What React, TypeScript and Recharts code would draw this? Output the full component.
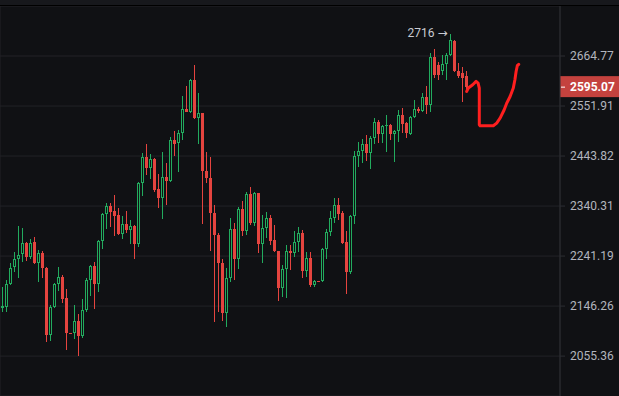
import {
  ComposedChart,
  Bar,
  Line,
  XAxis,
  YAxis,
  CartesianGrid,
  ReferenceLine,
  ReferenceDot,
} from "recharts";

// daily candles, oldest first
const opens = [
  2142.6, 2143.9, 2187.5, 2219.7, 2234.9, 2245.2, 2266.4, 2238.7, 2268.4, 2227.3,
  2246.5, 2217.8, 2094.1, 2145.0, 2187.5, 2200.8, 2160.9, 2096.6, 2096.6, 2118.4,
  2091.2, 2138.1, 2195.6, 2222.2, 2187.1, 2270.5, 2324.9, 2340.7, 2329.8, 2322.5,
  2283.8, 2304.0, 2292.7, 2300.7, 2264.0, 2387.9, 2442.8, 2417.9, 2437.0, 2374.9,
  2355.8, 2399.7, 2390.6, 2478.4, 2471.3, 2492.9, 2544.8, 2539.6, 2610.6, 2525.3,
  2536.1, 2413.4, 2397.7, 2325.8, 2282.2, 2227.3, 2133.0, 2198.1, 2294.1, 2234.9,
  2333.8, 2289.4, 2365.1, 2306.0, 2366.6, 2265.0, 2296.1, 2315.9, 2272.9, 2250.5,
  2179.9, 2216.5, 2250.5, 2247.7, 2269.5, 2286.2, 2213.3, 2236.8, 2186.1, 2193.2,
  2192.6, 2254.5, 2287.8, 2315.5, 2341.8, 2325.8, 2268.0, 2211.4, 2320.5, 2444.9,
  2454.0, 2469.1, 2449.7, 2482.1, 2515.8, 2490.7, 2507.2, 2510.8, 2490.7, 2496.4,
  2532.5, 2514.5, 2491.4, 2528.8, 2545.4, 2541.0, 2572.9, 2554.2, 2663.2, 2644.5,
  2629.3, 2646.0, 2667.1, 2700.1, 2629.3, 2625.7, 2618.0,
];
const highs = [
  2182.9, 2195.6, 2227.3, 2249.1, 2300.7, 2295.3, 2269.5, 2274.3, 2278.3, 2253.1,
  2251.7, 2219.4, 2148.7, 2189.0, 2219.7, 2205.1, 2178.0, 2096.8, 2147.6, 2131.7,
  2159.6, 2200.0, 2224.1, 2229.8, 2271.9, 2327.0, 2345.5, 2346.5, 2363.1, 2336.9,
  2319.5, 2331.0, 2312.6, 2302.6, 2389.0, 2449.7, 2469.8, 2448.1, 2439.1, 2406.6,
  2453.1, 2429.9, 2484.2, 2496.4, 2500.0, 2574.5, 2595.5, 2612.2, 2644.5, 2580.6,
  2537.2, 2453.1, 2442.4, 2342.4, 2286.2, 2234.9, 2217.8, 2315.9, 2307.2, 2339.0,
  2351.3, 2369.9, 2379.0, 2369.9, 2367.8, 2322.5, 2329.0, 2322.5, 2302.6, 2251.5,
  2224.1, 2263.0, 2263.0, 2289.4, 2298.1, 2292.7, 2249.7, 2249.7, 2194.3, 2193.4,
  2256.5, 2294.7, 2330.8, 2357.5, 2355.8, 2329.4, 2291.2, 2321.9, 2455.3, 2474.7,
  2479.9, 2489.2, 2487.1, 2525.3, 2521.6, 2510.8, 2532.5, 2511.9, 2500.0, 2543.3,
  2547.9, 2517.9, 2530.9, 2565.5, 2550.4, 2580.6, 2595.5, 2671.1, 2681.3, 2650.6,
  2667.1, 2671.1, 2716.0, 2701.3, 2649.0, 2638.4, 2629.3,
];
const lows = [
  2135.9, 2135.9, 2186.1, 2211.4, 2198.9, 2230.4, 2232.3, 2234.9, 2225.4, 2191.8,
  2198.1, 2080.8, 2083.2, 2143.5, 2174.7, 2152.5, 2066.3, 2095.8, 2085.7, 2055.4,
  2088.6, 2135.4, 2165.2, 2141.7, 2173.4, 2255.1, 2294.7, 2298.7, 2280.8, 2282.8,
  2274.3, 2286.2, 2264.0, 2236.4, 2259.6, 2361.0, 2404.5, 2396.2, 2369.9, 2335.7,
  2313.9, 2342.4, 2388.5, 2443.8, 2411.3, 2476.9, 2539.0, 2539.0, 2524.2, 2469.1,
  2304.6, 2387.3, 2251.1, 2117.7, 2135.9, 2119.5, 2108.6, 2192.4, 2195.6, 2215.9,
  2279.5, 2282.8, 2302.6, 2299.3, 2246.5, 2227.3, 2276.3, 2263.0, 2249.7, 2156.3,
  2162.8, 2160.9, 2214.6, 2238.7, 2249.7, 2198.9, 2201.9, 2181.8, 2182.9, 2192.0,
  2191.8, 2236.4, 2280.8, 2305.6, 2311.6, 2265.0, 2168.5, 2207.4, 2304.6, 2420.4,
  2429.9, 2434.1, 2416.3, 2469.8, 2472.6, 2472.6, 2452.5, 2476.9, 2432.0, 2474.7,
  2492.9, 2482.1, 2489.2, 2526.6, 2536.1, 2538.4, 2534.0, 2538.4, 2614.4, 2610.6,
  2621.9, 2610.6, 2665.5, 2628.8, 2614.4, 2560.3, 2584.2,
];
const closes = [
  2146.3, 2187.5, 2219.0, 2234.9, 2243.8, 2266.4, 2238.7, 2267.6, 2227.3, 2246.5,
  2217.8, 2094.1, 2145.0, 2187.5, 2200.8, 2160.1, 2096.6, 2096.0, 2118.4, 2091.2,
  2138.1, 2195.6, 2222.2, 2187.1, 2270.5, 2324.9, 2340.7, 2329.0, 2320.9, 2283.8,
  2304.0, 2292.7, 2299.7, 2264.0, 2387.9, 2442.8, 2417.9, 2437.0, 2373.4, 2355.8,
  2399.7, 2390.6, 2478.4, 2469.8, 2492.9, 2544.8, 2539.6, 2610.6, 2525.3, 2536.1,
  2413.4, 2397.7, 2325.8, 2282.2, 2227.3, 2133.0, 2198.1, 2294.1, 2234.9, 2333.8,
  2289.4, 2365.1, 2306.0, 2366.6, 2265.0, 2296.1, 2315.9, 2271.5, 2250.5, 2179.9,
  2216.5, 2250.5, 2247.7, 2269.5, 2286.2, 2213.3, 2236.8, 2186.1, 2192.8, 2192.2,
  2254.5, 2287.8, 2315.5, 2341.8, 2325.0, 2267.6, 2211.4, 2320.5, 2444.9, 2454.0,
  2469.1, 2449.7, 2482.1, 2515.8, 2490.7, 2507.2, 2509.8, 2490.7, 2496.4, 2532.5,
  2513.0, 2492.9, 2528.8, 2545.4, 2541.0, 2572.9, 2554.2, 2663.2, 2621.9, 2621.9,
  2646.0, 2667.1, 2702.5, 2629.3, 2618.0, 2614.4, 2595.07,
];

// hand drawn projection (bar index, price)
const drawIdx = [
  116.05, 116.45, 117.55, 118.4, 118.9, 119.2, 119.2, 119.4, 122.7, 123.55,
  124.4, 125.4, 126.05, 126.9, 127.7, 128.1, 128.4, 128.7, 129.05,
];
const drawPrice = [
  2584.2, 2591.9, 2599.3, 2606.8, 2603.1, 2591.9, 2510.8, 2508.7, 2508.7, 2514.5,
  2525.3, 2543.2, 2558.0, 2572.9, 2591.9, 2610.6, 2629.3, 2642.5, 2645.5,
];

const priceTicks = [2055.36, 2146.26, 2241.19, 2340.31, 2443.82, 2551.91, 2664.77];
const timeTicks = [-0.25, 23.75, 47.75, 71.75, 95.75, 119.75];
const lastPrice = 2595.07;

const UP = "#22ab5e";
const DOWN = "#e5443f";
const BG = "#101114";

const candles = opens.map((o, i) => ({
  i,
  open: o,
  high: highs[i],
  low: lows[i],
  close: closes[i],
  range: [lows[i], highs[i]],
}));
const drawing = drawIdx.map((i, k) => ({ i, p: drawPrice[k] }));

let hiIdx = 0;
highs.forEach((h, i) => {
  if (h > highs[hiIdx]) hiIdx = i;
});

function Candle(props: any) {
  const { x, y, width, height, payload } = props;
  if (x == null || !payload) return null;
  const { open, high, low, close } = payload;
  const top = Math.min(y, y + height);
  const h = Math.abs(height);
  const cx = Math.round(x + width / 2 - 0.5) + 0.5;
  const lh = Math.log(high);
  const span = lh - Math.log(low);
  const py = (v: number) => Math.round(span > 0 ? top + ((lh - Math.log(v)) / span) * h : top);
  const yh = Math.round(top);
  const yl = Math.round(top + h);
  const yo = py(open);
  const yc = py(close);

  if (close < open) {
    return (
      <g>
        <line x1={cx} x2={cx} y1={yh} y2={Math.max(yl, yh + 1)} stroke={DOWN} />
        <rect x={cx - 1.5} y={yo} width={3} height={Math.max(1, yc - yo)} fill={DOWN} />
      </g>
    );
  }
  return (
    <g>
      <line x1={cx} x2={cx} y1={yh} y2={yc} stroke={UP} />
      <line x1={cx} x2={cx} y1={yo} y2={Math.max(yl, yo + 1)} stroke={UP} />
      {yo - yc > 1 ? (
        <rect x={cx - 1} y={yc + 0.5} width={2} height={yo - yc - 1} fill={BG} stroke={UP} />
      ) : (
        <rect x={cx - 1.5} y={yc} width={3} height={Math.max(1, yo - yc)} fill={UP} />
      )}
    </g>
  );
}

function PriceTag(props: any) {
  const vb = props.viewBox || {};
  const left = (vb.x || 0) + (vb.width || 0);
  const cy = vb.y || 0;
  return (
    <g>
      <rect x={left} y={cy - 10.5} width={59} height={21} fill="#c4423e" />
      <line x1={left + 1} x2={left + 5} y1={cy + 0.5} y2={cy + 0.5} stroke="#ffffff" />
      <text x={left + 10} y={cy} dy="0.36em" fill="#ffffff" fontSize={12} fontWeight={700}>
        {lastPrice.toFixed(2)}
      </text>
    </g>
  );
}

function HighTag(props: any) {
  const vb = props.viewBox || {};
  const cx = (vb.x || 0) + (vb.width || 0) / 2;
  const cy = (vb.y || 0) + (vb.height || 0) / 2;
  return (
    <text x={cx - 3} y={cy - 1} dy="0.36em" textAnchor="end" fill="#c9cbd1" fontSize={12}>
      {`${Math.round(highs[hiIdx])} `}
      <tspan fontFamily="DejaVu Sans" fontSize={12}>
        →
      </tspan>
    </text>
  );
}

export default function App() {
  return (
    <div
      style={{
        position: "fixed",
        left: 0,
        top: 0,
        width: 619,
        height: 396,
        background: BG,
        fontFamily: "Roboto, sans-serif",
        overflow: "hidden",
      }}
    >
      <div style={{ height: 5, background: "#17181c", borderBottom: "1px solid #000" }} />
      <ComposedChart
        width={619}
        height={390}
        data={candles}
        margin={{ top: 0, right: 0, bottom: 0, left: 0 }}
      >
        <CartesianGrid stroke="#222327" ticks={timeTicks} />
        <XAxis
          type="number"
          dataKey="i"
          domain={[-0.625, 139.375]}
          ticks={timeTicks}
          interval={0}
          allowDataOverflow
          height={0}
          tick={false}
          axisLine={false}
          tickLine={false}
        />
        <YAxis
          orientation="right"
          type="number"
          scale="log"
          domain={[1985.6, 2782.6]}
          allowDataOverflow
          ticks={priceTicks}
          interval={0}
          width={59}
          tickSize={5}
          tickMargin={5}
          axisLine={{ stroke: "#2c2e33" }}
          tickLine={{ stroke: "#2c2e33" }}
          tick={{ fill: "#b2b5be", fontSize: 12 }}
          tickFormatter={(v: number) => v.toFixed(2)}
        />
        <Bar
          dataKey="range"
          barSize={4}
          shape={(p: any) => <Candle {...p} />}
          isAnimationActive={false}
        />
        <Line
          data={drawing}
          dataKey="p"
          type="linear"
          stroke="#ff1f1f"
          strokeWidth={3}
          strokeLinecap="round"
          strokeLinejoin="round"
          dot={false}
          activeDot={false}
          isAnimationActive={false}
        />
        <ReferenceDot
          x={hiIdx}
          y={highs[hiIdx]}
          r={0}
          fill="none"
          stroke="none"
          label={<HighTag />}
        />
        <ReferenceLine y={lastPrice} stroke="none" label={<PriceTag />} />
      </ComposedChart>
    </div>
  );
}
